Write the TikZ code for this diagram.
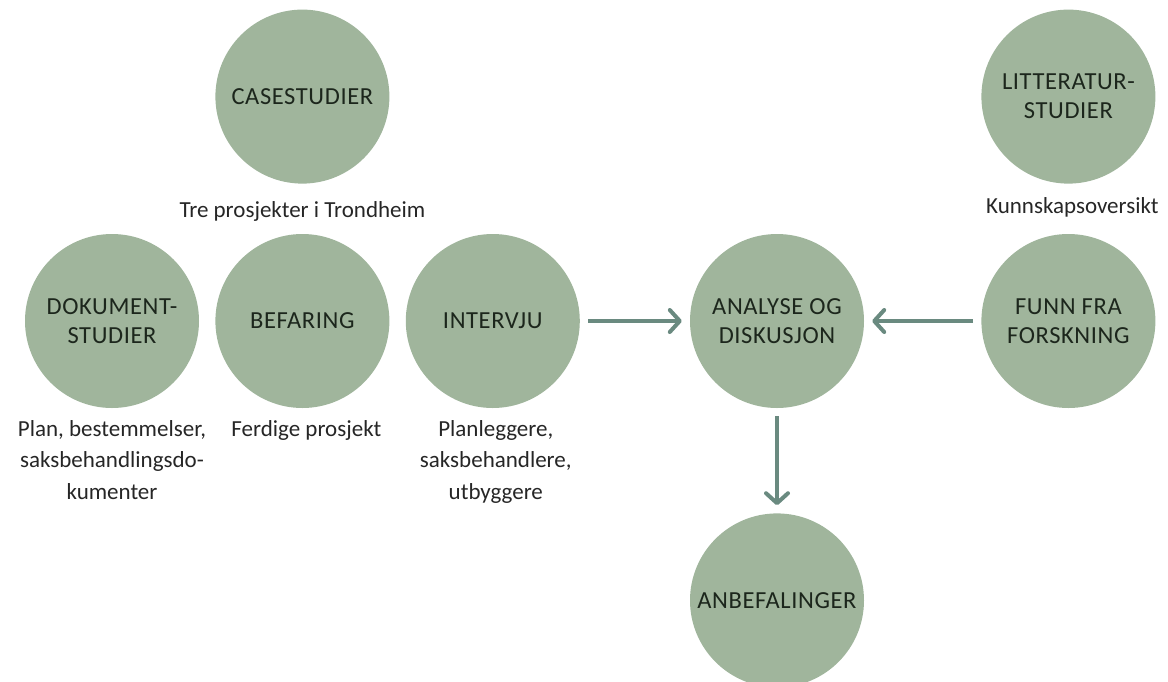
\documentclass[tikz,border=0pt]{standalone}
\usepackage{fontspec}
\setmainfont{Carlito}
\usetikzlibrary{positioning, arrows.meta}
\definecolor{sirkelgronn}{HTML}{A0B59C}
\definecolor{pilfarge}{HTML}{6A8A80}
\definecolor{tekstfarge}{HTML}{1C261C}
\tikzset{
    %Define standard arrow tip
    >={Straight Barb[length=10pt, width=22pt, round]},
    %Define style for circles
    sirkel/.style={
           circle,
           fill=sirkelgronn,
           minimum size=174pt,
           inner sep=0pt,
           text=tekstfarge,
           align=center,
           font=\addfontfeature{LetterSpace=2.5}\fontsize{24.5}{29}\selectfont},
    % Define style for text under circles
    merknad/.style={
           inner sep=0pt,
           align=center,
           text=black!85,
           font=\fontsize{23}{31.5}\selectfont},
    % Define arrow style
    pil/.style={
           ->,
           draw=pilfarge,
           line width=4pt,
           shorten <=8pt,
           shorten >=8pt}
}
\begin{document}
\begin{tikzpicture}[x=1pt, y=-1pt, node distance=16pt]
	\useasboundingbox (0,0) rectangle (1168,681);
	%
	% sirkler
	%
	\node[sirkel] (dokument) at (112,321) {DOKUMENT-\\STUDIER};
	\node[sirkel, right=of dokument] (befaring) {BEFARING};
	\node[sirkel, right=of befaring] (intervju) {INTERVJU};
	\node[sirkel, above=50pt of befaring] (casestudier) {CASESTUDIER};
	\node[sirkel] (analyse) at (777,321) {ANALYSE OG\\DISKUSJON};
	\node[sirkel, right=117pt of analyse] (funn) {FUNN FRA\\FORSKNING};
	\node[sirkel, above=50pt of funn] (litteratur) {LITTERATUR-\\STUDIER};
	\node[sirkel, below=105pt of analyse] (anbefalinger) {ANBEFALINGER};
	%
	% merknader
	%
	\node[merknad, below=18pt of casestudier] (tre) {Tre prosjekter i Trondheim};
	\node[merknad, below=14pt of litteratur, xshift=4pt] (kunnskap) {Kunnskapsoversikt};
	\node[merknad, below=12pt of dokument] (plan) {Plan, bestemmelser,\\saksbehandlingsdo-\\kumenter};
	\node[merknad, below=12pt of befaring, xshift=4pt] (ferdige) {Ferdige prosjekt};
	\node[merknad, below=12pt of intervju, xshift=3pt] (planleggere) {Planleggere,\\saksbehandlere,\\utbyggere};
	%
	% piler
	%
	\draw[pil] (intervju) to (analyse);
	\draw[pil] (funn) to (analyse);
	\draw[pil] (analyse) to (anbefalinger);
\end{tikzpicture}
\end{document}
